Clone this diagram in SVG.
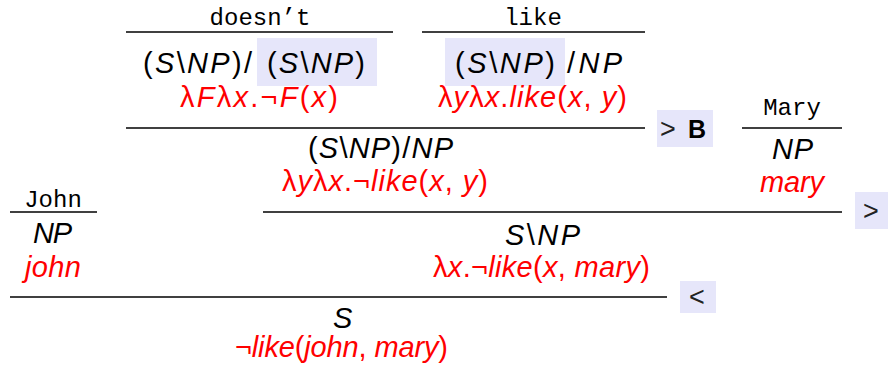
<svg xmlns="http://www.w3.org/2000/svg" width="888" height="370" viewBox="0 0 888 370">
<style>
.bg{fill:#ffffff}
.rule{stroke:#000;stroke-width:1.6;fill:none}
.hl{fill:#e6e6fa}
.word{font-family:"Liberation Mono","DejaVu Sans Mono",monospace;font-size:24px;fill:#000;text-anchor:middle}
.cat{font-family:"Liberation Sans","DejaVu Sans",sans-serif;font-size:29px;fill:#000}
.sem{font-family:"Liberation Sans","DejaVu Sans",sans-serif;font-size:29px;fill:#ff0000}
.it{font-style:italic}
.op{font-family:"Liberation Sans","DejaVu Sans",sans-serif;font-size:27px;fill:#222}
.bold{font-family:"Liberation Sans","DejaVu Sans",sans-serif;font-weight:bold;font-size:25px;fill:#000}
</style>
<rect class="bg" x="0" y="0" width="888" height="370"/>

<g id="connectors">
  <line class="rule" x1="126" y1="32" x2="393" y2="32"/>
  <line class="rule" x1="422" y1="32" x2="645" y2="32"/>
  <line class="rule" x1="126" y1="128" x2="645" y2="128"/>
  <line class="rule" x1="742" y1="128" x2="842" y2="128"/>
  <line class="rule" x1="263" y1="212" x2="842" y2="212"/>
  <line class="rule" x1="10" y1="212" x2="97" y2="212"/>
  <line class="rule" x1="10" y1="297" x2="667" y2="297"/>
</g>

<g id="doesnt">
  <text class="word" x="260" y="25">doesn’t</text>
  <rect class="hl" x="257" y="38" width="120" height="48"/>
  <text class="cat" x="143" y="73" textLength="109" lengthAdjust="spacing">(<tspan class="it">S</tspan>\<tspan class="it">NP</tspan>)/</text>
  <text class="cat" x="267" y="73" textLength="98" lengthAdjust="spacing">(<tspan class="it">S</tspan>\<tspan class="it">NP</tspan>)</text>
  <text class="sem" x="180" y="107" textLength="158" lengthAdjust="spacing">λ<tspan class="it">F</tspan>λ<tspan class="it">x</tspan>.¬<tspan class="it">F</tspan>(<tspan class="it">x</tspan>)</text>
</g>

<g id="like">
  <text class="word" x="533" y="25">like</text>
  <rect class="hl" x="445" y="38" width="120" height="48"/>
  <text class="cat" x="455" y="73" textLength="100" lengthAdjust="spacing">(<tspan class="it">S</tspan>\<tspan class="it">NP</tspan>)</text>
  <text class="cat" x="567" y="73" textLength="55" lengthAdjust="spacing">/<tspan class="it">NP</tspan></text>
  <text class="sem" x="438" y="107" textLength="189" lengthAdjust="spacing">λ<tspan class="it">y</tspan>λ<tspan class="it">x</tspan>.<tspan class="it">like</tspan>(<tspan class="it">x</tspan>, <tspan class="it">y</tspan>)</text>
</g>

<g id="op-fc">
  <rect class="hl" x="657" y="110" width="56" height="37"/>
  <text class="op" x="660" y="138">&gt;</text>
  <text class="bold" x="688" y="138">B</text>
</g>

<g id="mary">
  <text class="word" x="792" y="115">Mary</text>
  <text class="cat it" x="772" y="159" textLength="41" lengthAdjust="spacing">NP</text>
  <text class="sem it" x="760" y="192" textLength="64" lengthAdjust="spacing">mary</text>
</g>

<g id="doesnt-like">
  <text class="cat" x="308" y="158" textLength="145" lengthAdjust="spacing">(<tspan class="it">S</tspan>\<tspan class="it">NP</tspan>)/<tspan class="it">NP</tspan></text>
  <text class="sem" x="282" y="191" textLength="206" lengthAdjust="spacing">λ<tspan class="it">y</tspan>λ<tspan class="it">x</tspan>.¬<tspan class="it">like</tspan>(<tspan class="it">x</tspan>, <tspan class="it">y</tspan>)</text>
</g>

<g id="op-fa">
  <rect class="hl" x="855" y="192" width="33" height="37"/>
  <text class="op" x="863" y="220">&gt;</text>
</g>

<g id="john">
  <text class="word" x="53" y="207">John</text>
  <text class="cat it" x="33" y="243" textLength="39" lengthAdjust="spacing">NP</text>
  <text class="sem it" x="25" y="277" textLength="56" lengthAdjust="spacing">john</text>
</g>

<g id="vp">
  <text class="cat" x="505" y="245" textLength="75" lengthAdjust="spacing"><tspan class="it">S</tspan>\<tspan class="it">NP</tspan></text>
  <text class="sem" x="433" y="277" textLength="217" lengthAdjust="spacing">λ<tspan class="it">x</tspan>.¬<tspan class="it">like</tspan>(<tspan class="it">x</tspan>, <tspan class="it">mary</tspan>)</text>
</g>

<g id="op-ba">
  <rect class="hl" x="680" y="281" width="36" height="32"/>
  <text class="op" x="689" y="306">&lt;</text>
</g>

<g id="sentence">
  <text class="cat it" x="333" y="328">S</text>
  <text class="sem" x="235" y="357" textLength="213" lengthAdjust="spacing">¬<tspan class="it">like</tspan>(<tspan class="it">john</tspan>, <tspan class="it">mary</tspan>)</text>
</g>
</svg>
